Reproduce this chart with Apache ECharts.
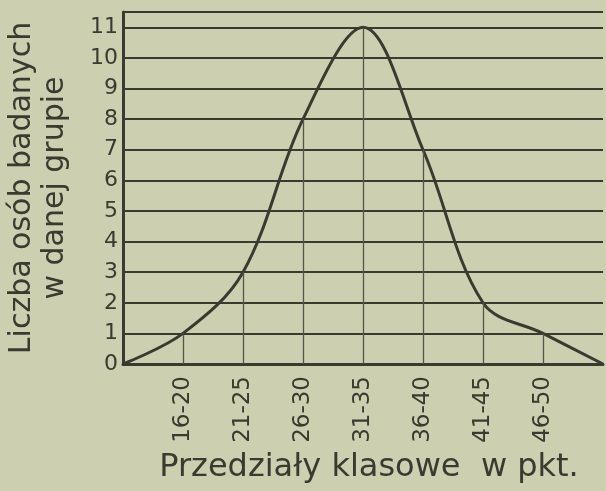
<!DOCTYPE html>
<html>
<head>
<meta charset="utf-8">
<script src="https://cdn.jsdelivr.net/npm/echarts@6/dist/echarts.min.js"></script>
<style>
  html, body { margin: 0; padding: 0; background: #cdd0b0; }
  #chart { width: 606px; height: 491px; }
</style>
</head>
<body>
<div id="chart"></div>
<script>
// przedziały klasowe (pierwszy i ostatni punkt to krawędzie wykresu)
var categories = ['', '16-20', '21-25', '26-30', '31-35', '36-40', '41-45', '46-50', ''];
var counts = [0, 1, 3, 8, 11, 7, 2, 1, 0];
var yTicks = [0, 1, 2, 3, 4, 5, 6, 7, 8, 9, 10, 11];

var ink = '#3a3a30';
var ec = echarts.init(document.getElementById('chart'));

// linie pionowe od osi do krzywej
var drops = [];
counts.forEach(function (v, i) {
  if (categories[i] !== '') drops.push([{ coord: [i, 0] }, { coord: [i, v] }]);
});

var option = {
  backgroundColor: '#cdd0b0',
  animation: false,
  grid: { left: 123, right: 3, top: 12, bottom: 127, outerBoundsMode: 'none', containLabel: false },
  xAxis: {
    type: 'category',
    data: categories,
    boundaryGap: false,
    axisLine: { lineStyle: { color: ink, width: 3 } },
    axisTick: { show: false },
    axisLabel: {
      rotate: 90,
      color: ink,
      fontFamily: 'DejaVu Sans',
      fontSize: 23,
      margin: 12,
      interval: 0
    },
    splitLine: { show: false },
    name: 'Przedziały klasowe  w pkt.',
    nameLocation: 'middle',
    nameGap: 88,
    nameTextStyle: { color: ink, fontFamily: 'DejaVu Sans', fontSize: 32, padding: [0, 0, 0, 12] }
  },
  yAxis: {
    type: 'value',
    min: 0,
    max: 11.5,
    interval: 1,
    axisLine: { show: true, lineStyle: { color: ink, width: 3 } },
    axisTick: { show: false },
    axisLabel: {
      color: ink,
      fontFamily: 'DejaVu Sans',
      fontSize: 22,
      margin: 5,
      formatter: function (v) { return yTicks.indexOf(v) >= 0 ? String(v) : ''; }
    },
    splitLine: { show: true, lineStyle: { color: ink, width: 2 } },
    name: 'Liczba osób badanych\nw danej grupie',
    nameLocation: 'middle',
    nameGap: 51,
    nameRotate: 90,
    nameTextStyle: { color: ink, fontFamily: 'DejaVu Sans', fontSize: 30, lineHeight: 33, align: 'center' }
  },
  series: [{
    type: 'line',
    data: counts,
    smooth: 0.35,
    symbol: 'none',
    lineStyle: { color: ink, width: 3 },
    markLine: {
      silent: true,
      symbol: 'none',
      label: { show: false },
      lineStyle: { color: '#55554a', width: 1.3, type: 'solid' },
      data: drops
    }
  }]
};
ec.setOption(option);
</script>
</body>
</html>
